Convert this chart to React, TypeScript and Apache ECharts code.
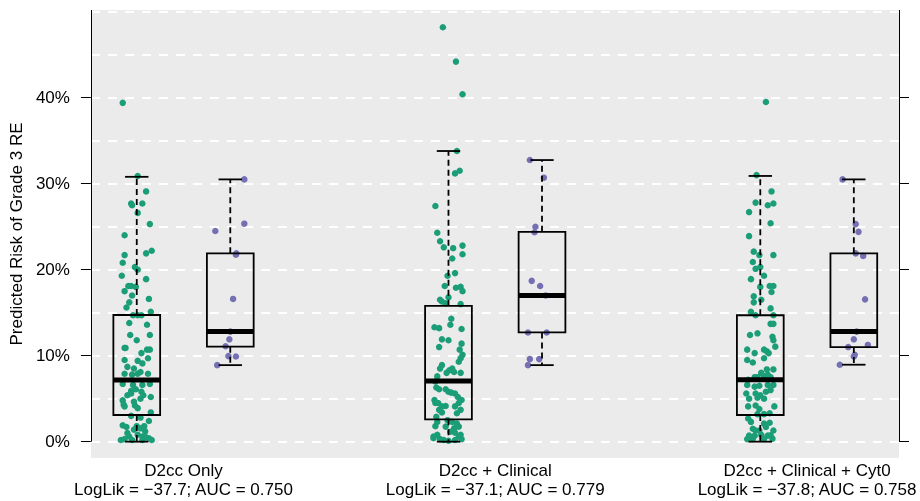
import React, { useEffect, useRef } from "react";
import * as echarts from "echarts";

// ---- Data (values in %) ----
const groupNames = ["D2cc Only", "D2cc + Clinical", "D2cc + Clinical + Cyt0"];
const logLik = [-37.7, -37.1, -37.8];
const auc = [0.75, 0.779, 0.758];

const boxPositions = [1, 2, 4.333, 5.333, 7.667, 8.667];
const boxLow = [0, 8.9, 0, 8.9, 0, 8.95];
const boxQ1 = [3.1, 11.05, 2.6, 12.7, 3.1, 11.0];
const boxMedian = [7.17, 12.8, 7.06, 17.0, 7.2, 12.8];
const boxQ3 = [14.73, 21.9, 15.8, 24.4, 14.7, 21.9];
const boxHigh = [30.8, 30.5, 33.8, 32.75, 30.9, 30.5];

const yTicks = [0, 10, 20, 30, 40];
const gridValues = [0, 5, 10, 15, 20, 25, 30, 35, 40, 45, 50];

// [jitter offset, value %]
const green1: number[][] = [
  [-0.15, 39.4], [0.01, 30.9], [0.1, 29.1], [-0.06, 27.7], [-0.05, 27.5], [0.06, 27.7], [0.01, 26.6],
  [0.14, 25.3], [-0.13, 24.0], [0.16, 22.2], [0.1, 21.9], [-0.13, 21.7], [-0.15, 20.8], [-0.02, 20.3],
  [0.01, 20.0], [-0.16, 19.3], [0.1, 18.9], [-0.09, 18.1], [-0.06, 18.1], [-0.01, 18.0], [-0.13, 17.5],
  [-0.05, 17.0], [0.13, 16.6], [-0.08, 16.2], [-0.11, 15.6], [0.15, 15.1], [-0.04, 14.7], [0.01, 14.7],
  [0.05, 14.7], [-0.08, 13.8], [0.11, 13.6], [-0.07, 12.4], [0.14, 12.4], [0.0, 11.8], [-0.13, 10.9],
  [-0.12, 10.9], [0.11, 10.7], [0.14, 10.7], [0.05, 10.3], [-0.13, 9.5], [0.01, 9.4], [0.12, 9.7],
  [0.06, 9.1], [-0.1, 8.7], [-0.03, 8.5], [0.04, 8.1], [0.01, 7.9], [0.12, 7.9], [-0.13, 7.9],
  [-0.05, 7.8], [-0.15, 6.7], [-0.04, 6.6], [0.06, 6.6], [0.14, 6.7], [-0.06, 5.9], [-0.01, 6.1],
  [0.05, 5.8], [0.07, 5.4], [-0.1, 5.4], [-0.06, 5.6], [0.15, 5.2], [-0.15, 4.8], [0.04, 5.0],
  [-0.14, 4.3], [-0.13, 4.1], [-0.02, 4.2], [0.01, 3.9], [-0.03, 4.65], [0.15, 3.4], [-0.06, 3.0],
  [0.04, 2.8], [0.13, 2.4], [-0.15, 1.9], [-0.11, 1.7], [0.0, 1.8], [0.08, 1.8], [0.04, 1.55],
  [-0.03, 1.4], [-0.17, 0.2], [-0.13, 0.3], [-0.08, 0.6], [0.01, 0.8], [0.06, 0.6], [0.1, 0.5],
  [0.13, 0.4], [0.16, 0.2], [-0.05, 0.2], [0.06, 0.2], [-0.1, 1.0], [0.09, 1.2],
];
const green2: number[][] = [
  [-0.06, 48.2], [0.08, 44.2], [0.15, 40.4], [0.09, 33.8], [0.07, 31.2], [0.12, 31.5], [-0.14, 27.4],
  [-0.12, 24.3], [-0.09, 23.3], [-0.05, 22.6], [0.05, 22.5], [0.15, 22.8], [0.15, 21.8], [0.04, 21.3],
  [-0.01, 19.3], [0.07, 19.6], [-0.04, 18.1], [0.08, 17.9], [0.13, 18.0], [0.15, 17.5], [-0.09, 16.5],
  [0.0, 16.8], [-0.07, 16.3], [-0.03, 16.1], [0.13, 16.0], [0.03, 14.3], [0.02, 13.6], [-0.15, 13.3],
  [-0.1, 13.2], [0.14, 13.1], [-0.07, 11.9], [0.0, 11.8], [0.14, 11.4], [-0.1, 11.0], [0.12, 10.7],
  [0.15, 10.1], [0.13, 9.7], [0.11, 9.3], [-0.07, 8.9], [-0.09, 8.5], [0.04, 8.5], [0.01, 8.3],
  [0.06, 8.1], [-0.02, 8.0], [0.13, 8.0], [-0.12, 7.6], [-0.14, 7.0], [-0.13, 6.3], [-0.1, 6.1],
  [-0.03, 6.1], [0.0, 5.8], [0.03, 5.7], [0.07, 5.6], [0.1, 5.2], [-0.15, 4.85], [-0.14, 4.5],
  [-0.11, 4.5], [-0.07, 4.1], [-0.03, 4.15], [-0.1, 3.7], [0.07, 4.1], [0.11, 4.5], [0.13, 3.7],
  [0.14, 4.85], [0.09, 3.3], [-0.07, 3.4], [-0.13, 2.9], [-0.12, 2.3], [-0.01, 2.5], [0.04, 2.3],
  [0.09, 2.1], [-0.14, 1.8], [-0.03, 1.75], [0.06, 1.55], [0.11, 1.75], [0.02, 1.15], [0.07, 1.05],
  [-0.16, 0.6], [-0.12, 0.8], [0.13, 0.8], [0.11, 0.6], [-0.09, 0.3], [-0.05, 0.2], [0.0, 0.1],
  [0.07, 0.2], [0.14, 0.3], [-0.16, 0.4],
];
const green3: number[][] = [
  [0.06, 39.5], [-0.04, 31.0], [0.12, 29.1], [-0.05, 27.8], [0.08, 27.5], [0.14, 27.7], [-0.12, 26.7],
  [0.11, 25.4], [-0.12, 23.9], [-0.07, 22.1], [-0.01, 21.7], [0.14, 21.7], [-0.08, 20.9], [-0.05, 20.1],
  [0.0, 20.3], [0.04, 19.3], [-0.1, 18.9], [0.0, 18.0], [0.1, 18.1], [0.14, 18.1], [0.12, 17.4],
  [-0.07, 16.9], [0.01, 16.5], [-0.07, 16.2], [0.11, 15.5], [-0.1, 15.1], [-0.05, 14.7], [0.14, 14.7],
  [0.11, 13.7], [0.14, 13.7], [-0.11, 12.4], [-0.03, 12.6], [0.13, 12.2], [0.14, 11.8], [-0.14, 10.7],
  [-0.06, 10.3], [0.04, 10.7], [0.07, 10.5], [0.09, 10.3], [0.16, 11.05], [-0.14, 9.5], [-0.08, 9.2],
  [0.04, 9.7], [0.07, 8.4], [0.14, 8.4], [0.01, 8.0], [0.08, 7.8], [-0.06, 7.5], [-0.13, 7.2],
  [-0.03, 7.5], [0.04, 7.6], [0.11, 7.5], [-0.14, 6.6], [-0.06, 6.4], [-0.01, 6.5], [0.08, 6.6],
  [0.14, 6.6], [0.11, 6.0], [0.06, 5.8], [-0.15, 5.6], [-0.05, 5.6], [0.0, 5.4], [-0.12, 5.0],
  [-0.03, 5.1], [0.04, 5.0], [-0.13, 4.1], [-0.05, 4.2], [-0.01, 3.8], [0.15, 4.1], [-0.03, 3.2],
  [0.04, 3.2], [0.1, 3.3], [-0.13, 2.7], [-0.1, 2.3], [0.04, 2.1], [0.06, 1.7], [0.1, 2.2],
  [-0.08, 1.5], [-0.05, 1.3], [-0.01, 1.3], [0.14, 1.3], [-0.12, 0.7], [-0.06, 0.7], [0.01, 0.8],
  [0.08, 0.7], [0.11, 0.75], [-0.14, 0.3], [-0.08, 0.35], [0.04, 0.35], [0.13, 0.35],
];
const purple1: number[][] = [
  [0.15, 30.5], [-0.16, 24.5], [0.15, 25.35], [0.06, 21.75], [0.065, 21.9], [0.03, 16.6], [0.0, 12.8],
  [-0.01, 11.9], [-0.05, 11.1], [-0.02, 9.95], [0.06, 9.9], [-0.14, 8.9],
];
const purple2: number[][] = [
  [-0.13, 32.75], [0.02, 30.7], [-0.07, 25.0], [-0.08, 24.35], [-0.11, 18.7], [-0.02, 18.1], [0.04, 17.0],
  [-0.15, 12.7], [0.05, 12.7], [-0.13, 9.6], [-0.03, 9.6], [-0.15, 8.9],
];
const purple3: number[][] = [
  [-0.12, 30.5], [0.02, 25.3], [0.05, 24.4], [0.02, 21.9], [0.1, 21.6], [0.12, 16.55], [0.03, 12.8],
  [0.0, 11.9], [-0.06, 11.0], [0.15, 11.25], [0.0, 9.9], [0.01, 10.1], [-0.15, 8.95],
];

const greenGroups = [green1, green2, green3];
const purpleGroups = [purple1, purple2, purple3];

const X_MIN = 0.51;
const X_MAX = 9.15;
const Y_MIN = -1.9;
const Y_MAX = 50.2;
const BOX_HALF = 0.25;
const CAP_HALF = 0.125;
const FONT = "'Liberation Sans', Arial, Helvetica, sans-serif";

const groupCenters = [0, 1, 2].map((g) => (boxPositions[2 * g] + boxPositions[2 * g + 1]) / 2);

function fmtMinus(v: number, d: number) {
  const s = Math.abs(v).toFixed(d);
  return (v < 0 ? "\u2212" : "") + s;
}

export default function App() {
  const ref = useRef<HTMLDivElement>(null);
  useEffect(() => {
    if (!ref.current) return;
    const chart = echarts.init(ref.current, undefined, { renderer: "svg" });

    const boxData = boxPositions.map((p, i) => [p, boxLow[i], boxQ1[i], boxMedian[i], boxQ3[i], boxHigh[i]]);
    const greenData: number[][] = [];
    greenGroups.forEach((pts, g) => pts.forEach(([dx, v]) => greenData.push([boxPositions[2 * g] + dx, v])));
    const purpleData: number[][] = [];
    purpleGroups.forEach((pts, g) => pts.forEach(([dx, v]) => purpleData.push([boxPositions[2 * g + 1] + dx, v])));

    const yAxisCommon = {
      type: "value",
      min: Y_MIN,
      max: Y_MAX,
      axisLine: { show: false },
      splitLine: { show: false },
      axisTick: {
        show: true,
        customValues: yTicks,
        length: 10,
        lineStyle: { color: "#000", width: 1 },
      },
    };

    const option: any = {
      animation: false,
      grid: {
        left: 90,
        right: 21,
        top: 10,
        bottom: 43,
        show: true,
        backgroundColor: "#EBEBEB",
        borderWidth: 0,
      },
      xAxis: {
        type: "value",
        min: X_MIN,
        max: X_MAX,
        axisLine: { show: false },
        axisTick: { show: false },
        splitLine: { show: false },
        axisLabel: {
          customValues: groupCenters,
          margin: 3,
          fontSize: 17,
          lineHeight: 19,
          color: "#000",
          fontFamily: FONT,
          formatter: (v: number) => {
            let idx = 0;
            let best = Infinity;
            groupCenters.forEach((c, i) => {
              const d = Math.abs(c - v);
              if (d < best) {
                best = d;
                idx = i;
              }
            });
            return `${groupNames[idx]}\nLogLik = ${fmtMinus(logLik[idx], 1)}; AUC = ${auc[idx].toFixed(3)}`;
          },
        },
      },
      yAxis: [
        {
          ...yAxisCommon,
          position: "left",
          name: "Predicted Risk of Grade 3 RE",
          nameLocation: "middle",
          nameGap: 62,
          nameTextStyle: { fontSize: 17, color: "#000", fontFamily: FONT },
          axisLabel: {
            customValues: yTicks,
            formatter: (v: number) => `${v}%`,
            margin: 21,
            fontSize: 17,
            color: "#000",
            fontFamily: FONT,
          },
        },
        {
          ...yAxisCommon,
          position: "right",
          axisLabel: { show: false },
        },
      ],
      series: [
        {
          type: "line",
          data: [],
          silent: true,
          clip: false,
          z: 1,
          markLine: {
            silent: true,
            z: 1,
            symbol: ["none", "none"],
            label: { show: false },
            lineStyle: { color: "#FFFFFF", width: 2, type: [9, 8], opacity: 1 },
            emphasis: { disabled: true },
            data: gridValues.map((v) => ({ yAxis: v })),
          },
        },
        {
          type: "scatter",
          data: greenData,
          symbol: "circle",
          symbolSize: 6.5,
          itemStyle: { color: "#1B9E77", opacity: 1 },
          silent: true,
          z: 3,
        },
        {
          type: "scatter",
          data: purpleData,
          symbol: "circle",
          symbolSize: 6.5,
          itemStyle: { color: "#7570B3", opacity: 1 },
          silent: true,
          z: 3,
        },
        {
          type: "custom",
          data: boxData,
          clip: false,
          silent: true,
          z: 4,
          encode: { x: 0, y: [1, 2, 3, 4, 5] },
          renderItem: (params: any, api: any) => {
            const x = api.value(0);
            const lo = api.value(1);
            const q1 = api.value(2);
            const md = api.value(3);
            const q3 = api.value(4);
            const hi = api.value(5);
            const [xl, yq3] = api.coord([x - BOX_HALF, q3]);
            const [xr, yq1] = api.coord([x + BOX_HALF, q1]);
            const [xc, yhi] = api.coord([x, hi]);
            const ylo = api.coord([x, lo])[1];
            const ymd = api.coord([x, md])[1];
            const cl = api.coord([x - CAP_HALF, 0])[0];
            const cr = api.coord([x + CAP_HALF, 0])[0];
            const solid = { stroke: "#000", lineWidth: 1.8, fill: "none" };
            const dashed = { stroke: "#000", lineWidth: 1.8, lineDash: [6, 4], fill: "none" };
            return {
              type: "group",
              children: [
                { type: "line", shape: { x1: xc, y1: yq3, x2: xc, y2: yhi }, style: dashed },
                { type: "line", shape: { x1: xc, y1: yq1, x2: xc, y2: ylo }, style: dashed },
                { type: "line", shape: { x1: cl, y1: yhi, x2: cr, y2: yhi }, style: solid },
                { type: "line", shape: { x1: cl, y1: ylo, x2: cr, y2: ylo }, style: solid },
                { type: "rect", shape: { x: xl, y: yq3, width: xr - xl, height: yq1 - yq3 }, style: solid },
                {
                  type: "line",
                  shape: { x1: xl, y1: ymd, x2: xr, y2: ymd },
                  style: { stroke: "#000", lineWidth: 5, lineCap: "butt" },
                },
              ],
            };
          },
          markLine: {
            silent: true,
            z: 5,
            symbol: ["none", "none"],
            label: { show: false },
            lineStyle: { color: "#000", width: 1, type: "solid", opacity: 1 },
            emphasis: { disabled: true },
            data: [
              [{ coord: [X_MIN, 0] }, { coord: [X_MIN, Y_MAX] }],
              [{ coord: [X_MAX, 0] }, { coord: [X_MAX, Y_MAX] }],
            ],
          },
        },
      ],
    };

    chart.setOption(option);
    return () => chart.dispose();
  }, []);

  return (
    <div
      ref={ref}
      style={{ position: "fixed", left: 0, top: 0, width: 920, height: 501 }}
    />
  );
}
